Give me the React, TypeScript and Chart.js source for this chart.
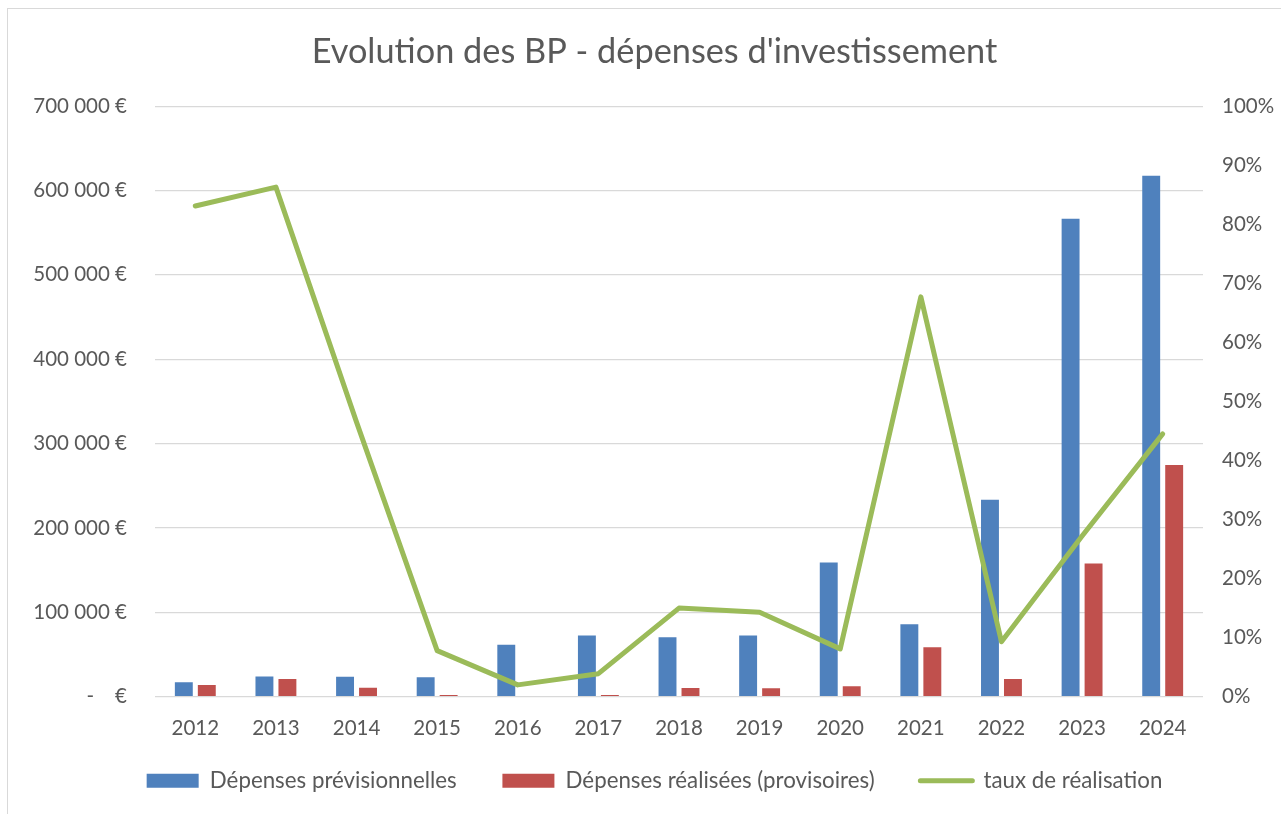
import React, { useEffect, useRef } from "react";
import { Chart, registerables } from "chart.js";

Chart.register(...registerables);

const years = ["2012", "2013", "2014", "2015", "2016", "2017", "2018", "2019", "2020", "2021", "2022", "2023", "2024"];
const depensesPrevisionnelles = [17000, 24000, 23500, 23000, 61500, 72500, 70500, 72500, 159000, 86000, 233500, 566500, 617500];
const depensesRealisees = [14000, 21000, 10700, 2000, 800, 2000, 10300, 10000, 12300, 58500, 21000, 158000, 274500];
const tauxRealisation = [0.831, 0.863, 0.465, 0.078, 0.02, 0.039, 0.15, 0.143, 0.081, 0.677, 0.093, 0.272, 0.445];

const seriesLabels = ["Dépenses prévisionnelles", "Dépenses réalisées (provisoires)", "taux de réalisation"];
const chartTitle = "Evolution des BP - dépenses d'investissement";

const BLUE = "#4F81BD";
const RED = "#C0504D";
const GREEN = "#9BBB59";
const TEXT = "#595959";
const GRID = "#D9D9D9";
const FONT = "Lato";
const SERIES_COLORS = [BLUE, RED, GREEN];

function formatEuro(v: number): string {
  if (v === 0) return "-    €";
  const s = String(Math.round(v)).replace(/\B(?=(\d{3})+(?!\d))/g, " ");
  return s + " €";
}

export default function App() {
  const ref = useRef<HTMLCanvasElement>(null);

  useEffect(() => {
    const canvas = ref.current;
    if (!canvas) return;
    const chart = new Chart(canvas, {
      type: "bar",
      data: {
        labels: years,
        datasets: [
          {
            type: "bar",
            label: seriesLabels[0],
            data: depensesPrevisionnelles,
            backgroundColor: BLUE,
            borderWidth: 0,
            yAxisID: "y",
            order: 2,
            categoryPercentage: 0.57,
            barPercentage: 0.78,
          },
          {
            type: "bar",
            label: seriesLabels[1],
            data: depensesRealisees,
            backgroundColor: RED,
            borderWidth: 0,
            yAxisID: "y",
            order: 2,
            categoryPercentage: 0.57,
            barPercentage: 0.78,
          },
          {
            type: "line",
            label: seriesLabels[2],
            data: tauxRealisation,
            borderColor: GREEN,
            backgroundColor: GREEN,
            borderWidth: 5,
            pointRadius: 0,
            tension: 0,
            borderJoinStyle: "round",
            borderCapStyle: "round",
            yAxisID: "y1",
            order: 0,
          } as any,
        ],
      },
      options: {
        responsive: false,
        animation: false,
        layout: { padding: { left: 20, right: 0, top: 0, bottom: 12 } },
        scales: {
          x: {
            grid: { display: false, drawTicks: false },
            border: { display: false },
            ticks: { color: TEXT, font: { family: FONT, size: 20.5 }, padding: 19 },
            afterFit: (s: any) => {
              s.height = 44;
            },
          },
          y: {
            position: "left",
            min: 0,
            max: 700000,
            grid: { color: GRID, lineWidth: 1.3, drawTicks: false },
            border: { display: false },
            ticks: {
              stepSize: 100000,
              color: TEXT,
              font: { family: FONT, size: 20.5 },
              padding: 28,
              callback: (v: any) => formatEuro(Number(v)),
            },
            afterFit: (s: any) => {
              s.width = 127;
            },
          },
          y1: {
            position: "right",
            min: 0,
            max: 1,
            grid: { display: false, drawTicks: false },
            border: { display: false },
            ticks: {
              stepSize: 0.1,
              color: TEXT,
              font: { family: FONT, size: 20.5 },
              padding: 19,
              callback: (v: any) => Math.round(Number(v) * 100) + "%",
            },
            afterFit: (s: any) => {
              s.width = 78;
            },
          },
        },
        plugins: {
          title: {
            display: true,
            text: chartTitle,
            color: TEXT,
            font: { family: FONT, size: 34.3, weight: "normal" },
            padding: { top: 22, bottom: 34 },
          },
          legend: {
            position: "bottom",
            labels: {
              color: TEXT,
              font: { family: FONT, size: 22.3 },
              usePointStyle: true,
              pointStyleWidth: 52,
              boxHeight: 14,
              padding: 29,
              sort: (a: any, b: any) => a.datasetIndex - b.datasetIndex,
              generateLabels: (c: any) => {
                const items = Chart.defaults.plugins.legend.labels.generateLabels(c);
                return items.map((it: any) => {
                  const i = it.datasetIndex;
                  const isLine = i === 2;
                  return {
                    ...it,
                    text: i < 2 ? it.text + "\u2003" : it.text,
                    fillStyle: SERIES_COLORS[i],
                    strokeStyle: SERIES_COLORS[i],
                    lineWidth: isLine ? 5 : 0,
                    lineCap: "round",
                    pointStyle: isLine ? "line" : "rect",
                    fontColor: TEXT,
                  };
                });
              },
            },
          },
          tooltip: { enabled: false },
        },
      },
    });
    return () => chart.destroy();
  }, []);

  return (
    <div
      style={{
        position: "fixed",
        left: 7,
        top: 8,
        width: 1274,
        height: 806,
        boxSizing: "border-box",
        borderLeft: "1px solid #D9D9D9",
        borderTop: "1px solid #D9D9D9",
        background: "#fff",
      }}
    >
      <canvas ref={ref} width={1273} height={805} style={{ display: "block", width: 1273, height: 805 }} />
    </div>
  );
}
